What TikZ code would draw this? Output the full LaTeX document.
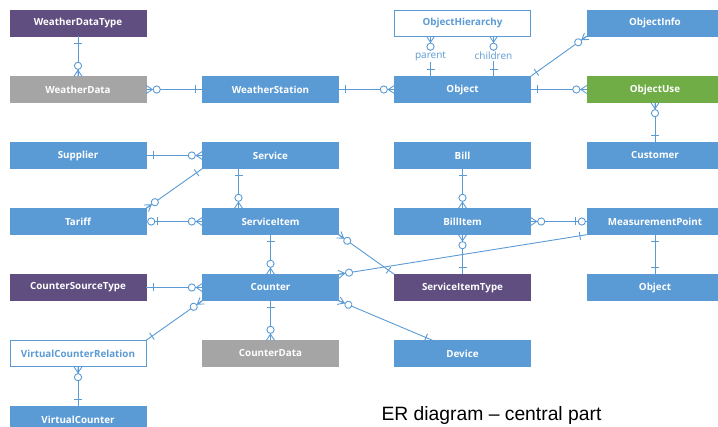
\documentclass[tikz,border=0pt]{standalone}
\usepackage{fontspec}
\setmainfont{Open Sans}
\newfontfamily\titlefont{Liberation Sans}
\usetikzlibrary{decorations.markings}
\definecolor{erblue}{HTML}{5B9BD5}
\definecolor{erpurple}{HTML}{604E80}
\definecolor{ergray}{HTML}{A5A5A5}
\definecolor{ergreen}{HTML}{70AD47}
\tikzset{
    entity/.style={rectangle, draw=#1, fill=#1, text=white, minimum width=136pt, minimum height=26pt,
        inner sep=0pt, font=\bfseries\fontsize{9.8}{11}\selectfont},
    entity/.default=erblue,
    hollow/.style={entity, fill=white, text=erblue},
    rel/.style={draw=erblue, line width=0.9pt},
    ermark/.style={draw=erblue, line width=0.9pt},
    lbl/.style={fill=white, text=erblue, inner sep=1pt, font=\fontsize{10}{11}\selectfont},
    at end/.style={postaction={decorate, decoration={markings, mark=at position 1 with {#1}}}},
    at start/.style={postaction={decorate, decoration={markings,
        mark=at position 0 with {\begin{scope}[xscale=-1]#1\end{scope}}}}},
}
% end symbols, drawn with the entity at the origin
\newcommand\erOne{\draw[ermark] (-7pt,-4pt) -- (-7pt,4pt);}
\newcommand\erMany{\draw[ermark] (-6pt,0pt) -- (0pt,4pt) (-6pt,0pt) -- (0pt,0pt) (-6pt,0pt) -- (0pt,-4pt);
    \draw[ermark, fill=white] (-10.5pt,0pt) circle (3.6pt);}
\newcommand\erZeroOne{\draw[ermark] (-11.5pt,-4pt) -- (-11.5pt,4pt);
    \draw[ermark, fill=white] (-5pt,0pt) circle (3.6pt);}
\begin{document}
\begin{tikzpicture}[x=1pt, y=-1pt]
    \useasboundingbox (0,0) rectangle (718,427);
    \clip (0,0) rectangle (718,427);
    % first column
    \node[entity=erpurple] (wdtype) at (78,23)    {WeatherDataType};
    \node[entity=ergray]   (wdata)  at (78,89.5)  {WeatherData};
    \node[entity]          (supp)   at (78,155.5) {Supplier};
    \node[entity]          (tariff) at (78,221.5) {Tariff};
    \node[entity=erpurple] (cstype) at (78,287.5) {CounterSourceType};
    \node[hollow]          (vcrel)  at (78,353.5) {VirtualCounterRelation};
    \node[entity]          (vcount) at (78,419.5) {VirtualCounter};
    % second column
    \node[entity]        (wstat) at (270.5,89.5)  {WeatherStation};
    \node[entity]        (serv)  at (270.5,155.5) {Service};
    \node[entity]        (sitem) at (270.5,221.5) {ServiceItem};
    \node[entity]        (count) at (270.5,287.5) {Counter};
    \node[entity=ergray] (cdata) at (270.5,353.5) {CounterData};
    % third column
    \node[hollow]          (ohier)  at (462.5,23)    {ObjectHierarchy};
    \node[entity]          (obj)    at (462.5,89.5)  {Object};
    \node[entity]          (bill)   at (462.5,155.5) {Bill};
    \node[entity]          (bitem)  at (462.5,221.5) {BillItem};
    \node[entity=erpurple] (sitype) at (462.5,287.5) {ServiceItemType};
    \node[entity]          (dev)    at (462.5,353.5) {Device};
    % fourth column
    \node[entity]         (oinfo)  at (655,23)    {ObjectInfo};
    \node[entity=ergreen] (ouse)   at (655,89.5)  {ObjectUse};
    \node[entity]         (cust)   at (655,155.5) {Customer};
    \node[entity]         (mpoint) at (655,221.5) {MeasurementPoint};
    \node[entity]         (objb)   at (655,287.5) {Object};
    % weather and object relations
    \draw[rel, at start=\erOne,  at end=\erMany] (wdtype) -- (wdata);
    \draw[rel, at start=\erMany, at end=\erOne]  (wdata) -- (wstat);
    \draw[rel, at start=\erOne,  at end=\erMany] (wstat) -- (obj);
    \draw[rel, at start=\erMany, at end=\erOne]  ([xshift=-32pt]ohier.south) -- node[lbl] (lpar) {parent} ([xshift=-32pt]obj.north);
    \draw[rel, at start=\erMany, at end=\erOne]  ([xshift=31pt]ohier.south) -- node[lbl] (lchild) {children} ([xshift=31pt]obj.north);
    \draw[rel, at start=\erOne,  at end=\erMany] (obj.north east) -- (oinfo.south west);
    \draw[rel, at start=\erOne,  at end=\erMany] (obj) -- (ouse);
    \draw[rel, at start=\erMany, at end=\erOne]  (ouse) -- (cust);
    % service relations
    \draw[rel, at start=\erOne,  at end=\erMany] (supp) -- (serv);
    \draw[rel, at start=\erOne,  at end=\erMany] (serv.south west) -- (tariff.north east);
    \draw[rel, at start=\erOne,  at end=\erMany] ([xshift=-32pt]serv.south) -- ([xshift=-32pt]sitem.north);
    \draw[rel, at start=\erZeroOne, at end=\erMany] (tariff) -- (sitem);
    \draw[rel, at start=\erMany, at end=\erOne]  (sitem.south east) -- (sitype.north west);
    \draw[rel, at start=\erOne,  at end=\erMany] (sitem) -- (count);
    % bill relations
    \draw[rel, at start=\erOne,  at end=\erMany] (bill) -- (bitem);
    \draw[rel, at start=\erMany, at end=\erZeroOne] (bitem) -- (mpoint);
    \draw[rel, at start=\erMany, at end=\erOne]  (bitem) -- (sitype);
    \draw[rel, at start=\erOne,  at end=\erOne]  (mpoint) -- (objb);
    % counter relations
    \draw[rel, at start=\erMany, at end=\erOne]  (count.north east) -- (mpoint.south west);
    \draw[rel, at start=\erMany, at end=\erOne]  (count.south east) -- ([xshift=-30pt]dev.north);
    \draw[rel, at start=\erOne,  at end=\erMany] (cstype) -- (count);
    \draw[rel, at start=\erMany, at end=\erOne]  (count.south west) -- (vcrel.north east);
    \draw[rel, at start=\erOne,  at end=\erMany] (count) -- (cdata);
    \draw[rel, at start=\erMany, at end=\erOne]  (vcrel) -- (vcount);
    % title
    \node[anchor=base west, font=\titlefont\fontsize{19.3}{22}\selectfont] (title) at (378,421) {ER diagram – central part};
\end{tikzpicture}
\end{document}
